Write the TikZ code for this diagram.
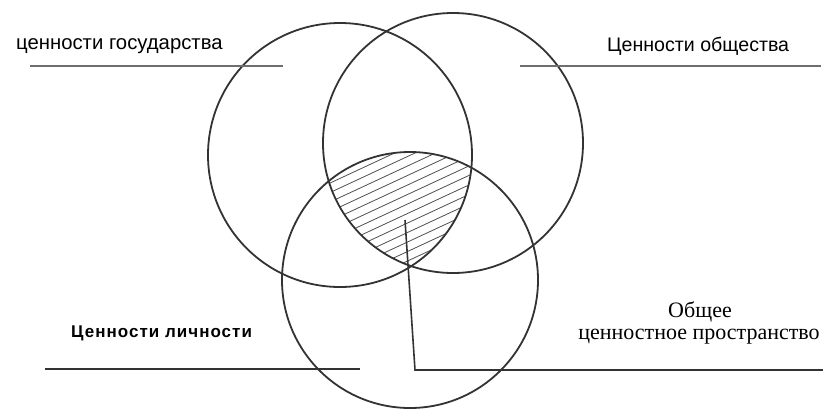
\documentclass[tikz,border=0pt]{standalone}
\usepackage{fontspec}
\newfontfamily\sansf{Liberation Sans}
\newfontfamily\sansbf[LetterSpace=6]{Liberation Sans}
\newfontfamily\seriff{Liberation Serif}
\definecolor{ink}{HTML}{333333}
\definecolor{rule}{HTML}{6E6E6E}
\definecolor{hatch}{HTML}{505050}
\begin{document}
\begin{tikzpicture}[x=1pt,y=-1pt,
  ring/.style={circle,draw=ink,line width=1.8pt,inner sep=0pt},
  toprule/.style={draw=rule,line width=1.3pt},
  botrule/.style={draw=ink,line width=1.4pt},
  pointer/.style={draw=ink,line width=1.6pt,line join=miter},
  lbl/.style={inner sep=0pt,text=black}]
\useasboundingbox[fill=white] (0,0) rectangle (823,410);
% hatching of the common region
\begin{scope}
  \clip (340,155) circle[radius=132pt];
  \clip (453,143) circle[radius=130pt];
  \clip (410,280) circle[radius=128pt];
  \foreach \k in {0,...,22}
    \draw[hatch,line width=0.8pt] (300,{140+\k*9.5}) -- ++(200,-93);
\end{scope}
% circles
\node[ring,minimum size=264pt] (state) at (340,155) {};
\node[ring,minimum size=260pt] (society) at (453,143) {};
\node[ring,minimum size=256pt] (person) at (410,280) {};
% labels
\node[lbl,anchor=base west,font=\sansf\fontsize{20.3}{22}\selectfont] (lstate) at (16,49) {ценности государства};
\node[lbl,anchor=base west,font=\sansf\fontsize{19.6}{22}\selectfont] (lsoc) at (607,51) {Ценности общества};
\node[lbl,anchor=base west,font=\sansbf\bfseries\fontsize{17}{20}\selectfont] (lpers) at (71,337) {Ценности личности};
\node[lbl,anchor=base,font=\seriff\fontsize{22}{24}\selectfont] (lgen1) at (700,317) {Общее};
\node[lbl,anchor=base,font=\seriff\fontsize{22}{24}\selectfont] (lgen2) at (699,339) {ценностное пространство};
% rules under labels
\coordinate (r1a) at (30,66); \coordinate (r1b) at (283,66);
\coordinate (r2a) at (520,66); \coordinate (r2b) at (821,66);
\coordinate (r3a) at (45,369); \coordinate (r3b) at (360,369);
\draw[toprule] (r1a) -- (r1b);
\draw[toprule] (r2a) -- (r2b);
\draw[botrule] (r3a) -- (r3b);
% pointer to the common region
\coordinate (ptip) at (405,220);
\coordinate (pcorner) at (415,370);
\coordinate (pend) at (823,370);
\draw[pointer] (ptip) -- (pcorner) -- (pend);
\end{tikzpicture}
\end{document}
